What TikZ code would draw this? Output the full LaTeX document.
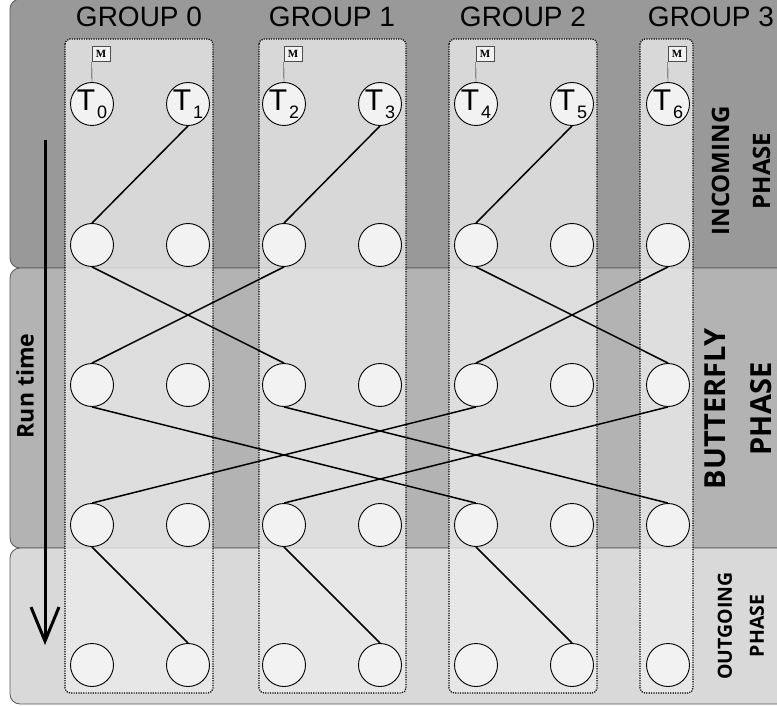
\documentclass[tikz,border=0pt]{standalone}
\usepackage{fontspec}
\setmainfont{Liberation Sans}
\newfontfamily\phasefont{Open Sans}
\newfontfamily\flagfont{Liberation Serif}
\usetikzlibrary{arrows.meta}
\definecolor{bandin}{HTML}{999999}
\definecolor{bandbf}{HTML}{B3B3B3}
\definecolor{bandout}{HTML}{D9D9D9}
\definecolor{grpfill}{HTML}{EBEBEB}
\definecolor{cellfill}{HTML}{F2F2F2}
\newcommand{\tlab}[1]{T\kern2pt\raisebox{-8pt}{\fontsize{18}{18}\selectfont #1}}

\begin{document}
\begin{tikzpicture}[x=1pt,y=-1pt,
  band/.style={draw=black!65,line width=0.8pt,rounded corners=10pt},
  grp/.style={draw,dash pattern=on 1.2pt off 1.2pt,line width=1.2pt,rounded corners=5pt,
    fill=grpfill,fill opacity=0.78},
  cell/.style={circle,draw,line width=0.9pt,fill=cellfill,
    minimum size=43pt,inner sep=0pt,font=\fontsize{30}{30}\selectfont},
  flag/.style={rectangle,draw=black!70,fill=cellfill,line width=0.6pt,
    minimum width=18pt,minimum height=15pt,inner sep=0pt,
    font=\flagfont\bfseries\fontsize{11}{11}\selectfont},
  grplab/.style={font=\fontsize{28}{28}\selectfont},
  phase/.style={rotate=90,align=center,inner sep=0pt},
  link/.style={line width=1.5pt},
  timeline/.style={-{Straight Barb[length=34pt,width=28pt]},line width=3pt}]

  \clip (0,0) rectangle (777,706);

  % phase bands
  \draw[band,fill=bandin] (10,-1) rectangle (790,268);
  \draw[band,fill=bandbf] (10,268) rectangle (790,548);
  \draw[band,fill=bandout] (10,548) rectangle (790,704);

  % groups
  \draw[grp] (65,39) rectangle (213,693);
  \draw[grp] (259,39) rectangle (406,693);
  \draw[grp] (449,39) rectangle (597,693);
  \draw[grp] (640,39) rectangle (693,693);

  \node[grplab] (g0) at (139,17) {GROUP 0};
  \node[grplab] (g1) at (332,17) {GROUP 1};
  \node[grplab] (g2) at (523,17) {GROUP 2};
  \node[grplab] (g3) at (711,17) {GROUP 3};

  % phase labels
  \node[phase,font=\phasefont\bfseries\fontsize{24}{41}\selectfont] (inlab) at (741,171) {INCOMING\\PHASE};
  \node[phase,font=\phasefont\bfseries\fontsize{29}{46}\selectfont] (bflab) at (738,409) {BUTTERFLY\\PHASE};
  \node[phase,font=\phasefont\bfseries\fontsize{19.5}{32}\selectfont] (outlab) at (741,626) {OUTGOING\\PHASE};

  % run time
  \node[phase,font=\phasefont\bfseries\fontsize{23}{23}\selectfont] (rt) at (25,386) {Run time};
  \coordinate (rtop) at (45,140);
  \coordinate (rbot) at (45,645);
  \draw[timeline] (rtop) -- (rbot);

  % threads
  \node[cell] (t0) at (92,104) {\tlab{0}};
  \node[cell] (t1) at (188,104) {\tlab{1}};
  \node[cell] (t2) at (284,104) {\tlab{2}};
  \node[cell] (t3) at (380,104) {\tlab{3}};
  \node[cell] (t4) at (476,104) {\tlab{4}};
  \node[cell] (t5) at (572,104) {\tlab{5}};
  \node[cell] (t6) at (668,104) {\tlab{6}};

  \node[flag] (m0) at (101,54) {M};
  \node[flag] (m2) at (293,54) {M};
  \node[flag] (m4) at (485,54) {M};
  \node[flag] (m6) at (677,54) {M};
  \draw (t0.north) -- (m0.south west);
  \draw (t2.north) -- (m2.south west);
  \draw (t4.north) -- (m4.south west);
  \draw (t6.north) -- (m6.south west);

  % cells
  \node[cell] (a0) at (92,245) {};
  \node[cell] (a1) at (188,245) {};
  \node[cell] (a2) at (284,245) {};
  \node[cell] (a3) at (380,245) {};
  \node[cell] (a4) at (476,245) {};
  \node[cell] (a5) at (572,245) {};
  \node[cell] (a6) at (668,245) {};

  \node[cell] (b0) at (92,385) {};
  \node[cell] (b1) at (188,385) {};
  \node[cell] (b2) at (284,385) {};
  \node[cell] (b3) at (380,385) {};
  \node[cell] (b4) at (476,385) {};
  \node[cell] (b5) at (572,385) {};
  \node[cell] (b6) at (668,385) {};

  \node[cell] (c0) at (92,525) {};
  \node[cell] (c1) at (188,525) {};
  \node[cell] (c2) at (284,525) {};
  \node[cell] (c3) at (380,525) {};
  \node[cell] (c4) at (476,525) {};
  \node[cell] (c5) at (572,525) {};
  \node[cell] (c6) at (668,525) {};

  \node[cell] (d0) at (92,665) {};
  \node[cell] (d1) at (188,665) {};
  \node[cell] (d2) at (284,665) {};
  \node[cell] (d3) at (380,665) {};
  \node[cell] (d4) at (476,665) {};
  \node[cell] (d5) at (572,665) {};
  \node[cell] (d6) at (668,665) {};

  % incoming
  \draw[link] (t1.south) -- (a0.north);
  \draw[link] (t3.south) -- (a2.north);
  \draw[link] (t5.south) -- (a4.north);

  % butterfly
  \draw[link] (a0.south) -- (b2.north);
  \draw[link] (a2.south) -- (b0.north);
  \draw[link] (a4.south) -- (b6.north);
  \draw[link] (a6.south) -- (b4.north);
  \draw[link] (b0.south) -- (c4.north);
  \draw[link] (b2.south) -- (c6.north);
  \draw[link] (b4.south) -- (c0.north);
  \draw[link] (b6.south) -- (c2.north);

  % outgoing
  \draw[link] (c0.south) -- (d1.north);
  \draw[link] (c2.south) -- (d3.north);
  \draw[link] (c4.south) -- (d5.north);
\end{tikzpicture}
\end{document}
